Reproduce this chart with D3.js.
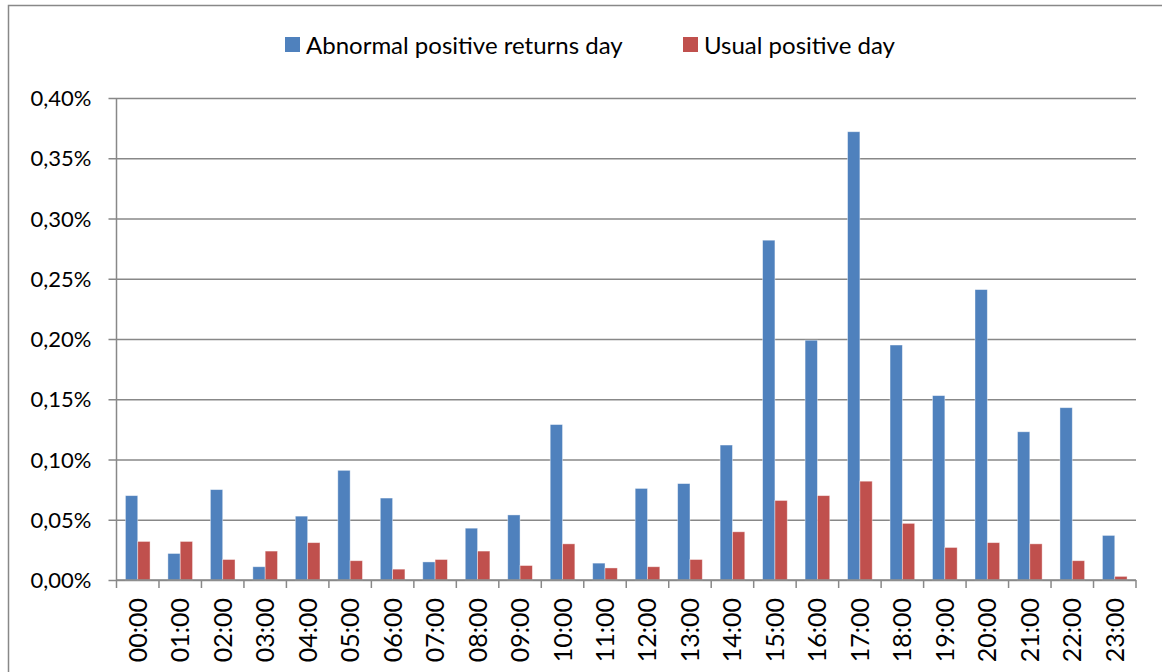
<!DOCTYPE html>
<html>
<head>
<meta charset="utf-8">
<script src="https://cdn.jsdelivr.net/npm/d3@7"></script>
<style>
  body { margin: 0; background: #fff; }
  text { font-family: Lato, "Open Sans", sans-serif; fill: #000; }
</style>
</head>
<body>
<div id="chart"></div>
<script>
// hours on the x axis
var hours = ["00:00","01:00","02:00","03:00","04:00","05:00","06:00","07:00","08:00","09:00","10:00","11:00",
             "12:00","13:00","14:00","15:00","16:00","17:00","18:00","19:00","20:00","21:00","22:00","23:00"];
// values in percent
var abnormalDay = [0.070,0.022,0.075,0.011,0.053,0.091,0.068,0.015,0.043,0.054,0.129,0.014,
                   0.076,0.080,0.112,0.282,0.199,0.372,0.195,0.153,0.241,0.123,0.143,0.037];
var usualDay = [0.032,0.032,0.017,0.024,0.031,0.016,0.009,0.017,0.024,0.012,0.030,0.010,
                0.011,0.017,0.040,0.066,0.070,0.082,0.047,0.027,0.031,0.030,0.016,0.003];
var seriesNames = ["Abnormal positive returns day", "Usual positive day"];
var yTicks = [0, 0.05, 0.10, 0.15, 0.20, 0.25, 0.30, 0.35, 0.40];

var width = 1162, height = 672;
var margin = {top: 98, left: 116.5, right: 26, bottom: 92};
var colors = ["#4F81BD", "#C0504D"];

var svg = d3.select("#chart").append("svg")
    .attr("width", width)
    .attr("height", height);

// outer frame (runs off the right and bottom edges)
svg.append("rect")
    .attr("x", 8.5).attr("y", 5.5)
    .attr("width", 1200).attr("height", 700)
    .attr("fill", "none")
    .attr("stroke", "#888")
    .attr("stroke-width", 1.5);

var x = d3.scaleBand()
    .domain(hours)
    .range([margin.left, width - margin.right])
    .paddingInner(0.42)
    .paddingOuter(0.21);

var xSub = d3.scaleBand()
    .domain([0, 1])
    .range([0, x.bandwidth()]);

var y = d3.scaleLinear()
    .domain([0, 0.40])
    .range([height - margin.bottom, margin.top]);

var fmt = function (d) { return d3.format(".2f")(d).replace(".", ",") + "%"; };

// gridlines + y axis labels
var yAxis = d3.axisLeft(y)
    .tickValues(yTicks)
    .tickFormat(fmt)
    .tickSize(-(width - margin.right - margin.left) - 8);

var gy = svg.append("g")
    .attr("transform", "translate(" + (margin.left - 8) + ",0)")
    .call(yAxis);
gy.select(".domain").remove();
gy.selectAll(".tick line").attr("stroke", "#888").attr("stroke-width", 1.5);
gy.selectAll(".tick text").style("font-size", "22px").attr("dy", "0.35em").attr("x", -17);

svg.append("line")
    .attr("x1", margin.left).attr("x2", margin.left)
    .attr("y1", margin.top).attr("y2", height - margin.bottom)
    .attr("stroke", "#888").attr("stroke-width", 1.5);

// bars
var groups = svg.append("g").selectAll("g")
    .data(hours)
    .join("g")
    .attr("transform", function (d) { return "translate(" + x(d) + ",0)"; });

groups.selectAll("rect")
    .data(function (d, i) { return [abnormalDay[i], usualDay[i]]; })
    .join("rect")
    .attr("x", function (d, j) { return xSub(j); })
    .attr("y", function (d) { return y(d); })
    .attr("width", xSub.bandwidth())
    .attr("height", function (d) { return y(0) - y(d); })
    .attr("fill", function (d, j) { return colors[j]; })
    .attr("stroke", "rgba(255,255,255,0.5)")
    .attr("stroke-width", 0.8);

// x axis
var tickPos = d3.range(hours.length + 1).map(function (i) {
    return margin.left + i * (width - margin.right - margin.left) / hours.length;
});
svg.append("g").selectAll("line")
    .data(tickPos)
    .join("line")
    .attr("x1", function (d) { return d; }).attr("x2", function (d) { return d; })
    .attr("y1", y(0)).attr("y2", y(0) + 8)
    .attr("stroke", "#888").attr("stroke-width", 1.5);

svg.append("line")
    .attr("x1", margin.left).attr("x2", width - margin.right)
    .attr("y1", y(0)).attr("y2", y(0))
    .attr("stroke", "#888").attr("stroke-width", 1.5);

svg.append("g").selectAll("text")
    .data(hours)
    .join("text")
    .attr("transform", function (d) {
        return "translate(" + (x(d) + x.bandwidth() / 2 + 9) + "," + (y(0) + 18) + ") rotate(-90)";
    })
    .attr("text-anchor", "end")
    .style("font-size", "25px")
    .text(function (d) { return d; });

// legend
var legend = svg.append("g");
var legendX = [285, 683];
seriesNames.forEach(function (name, i) {
    legend.append("rect")
        .attr("x", legendX[i]).attr("y", 37)
        .attr("width", 15).attr("height", 15)
        .attr("fill", colors[i]);
    legend.append("text")
        .attr("x", legendX[i] + 21).attr("y", 46)
        .attr("dy", "0.35em")
        .style("font-size", "24px")
        .text(name);
});
</script>
</body>
</html>
